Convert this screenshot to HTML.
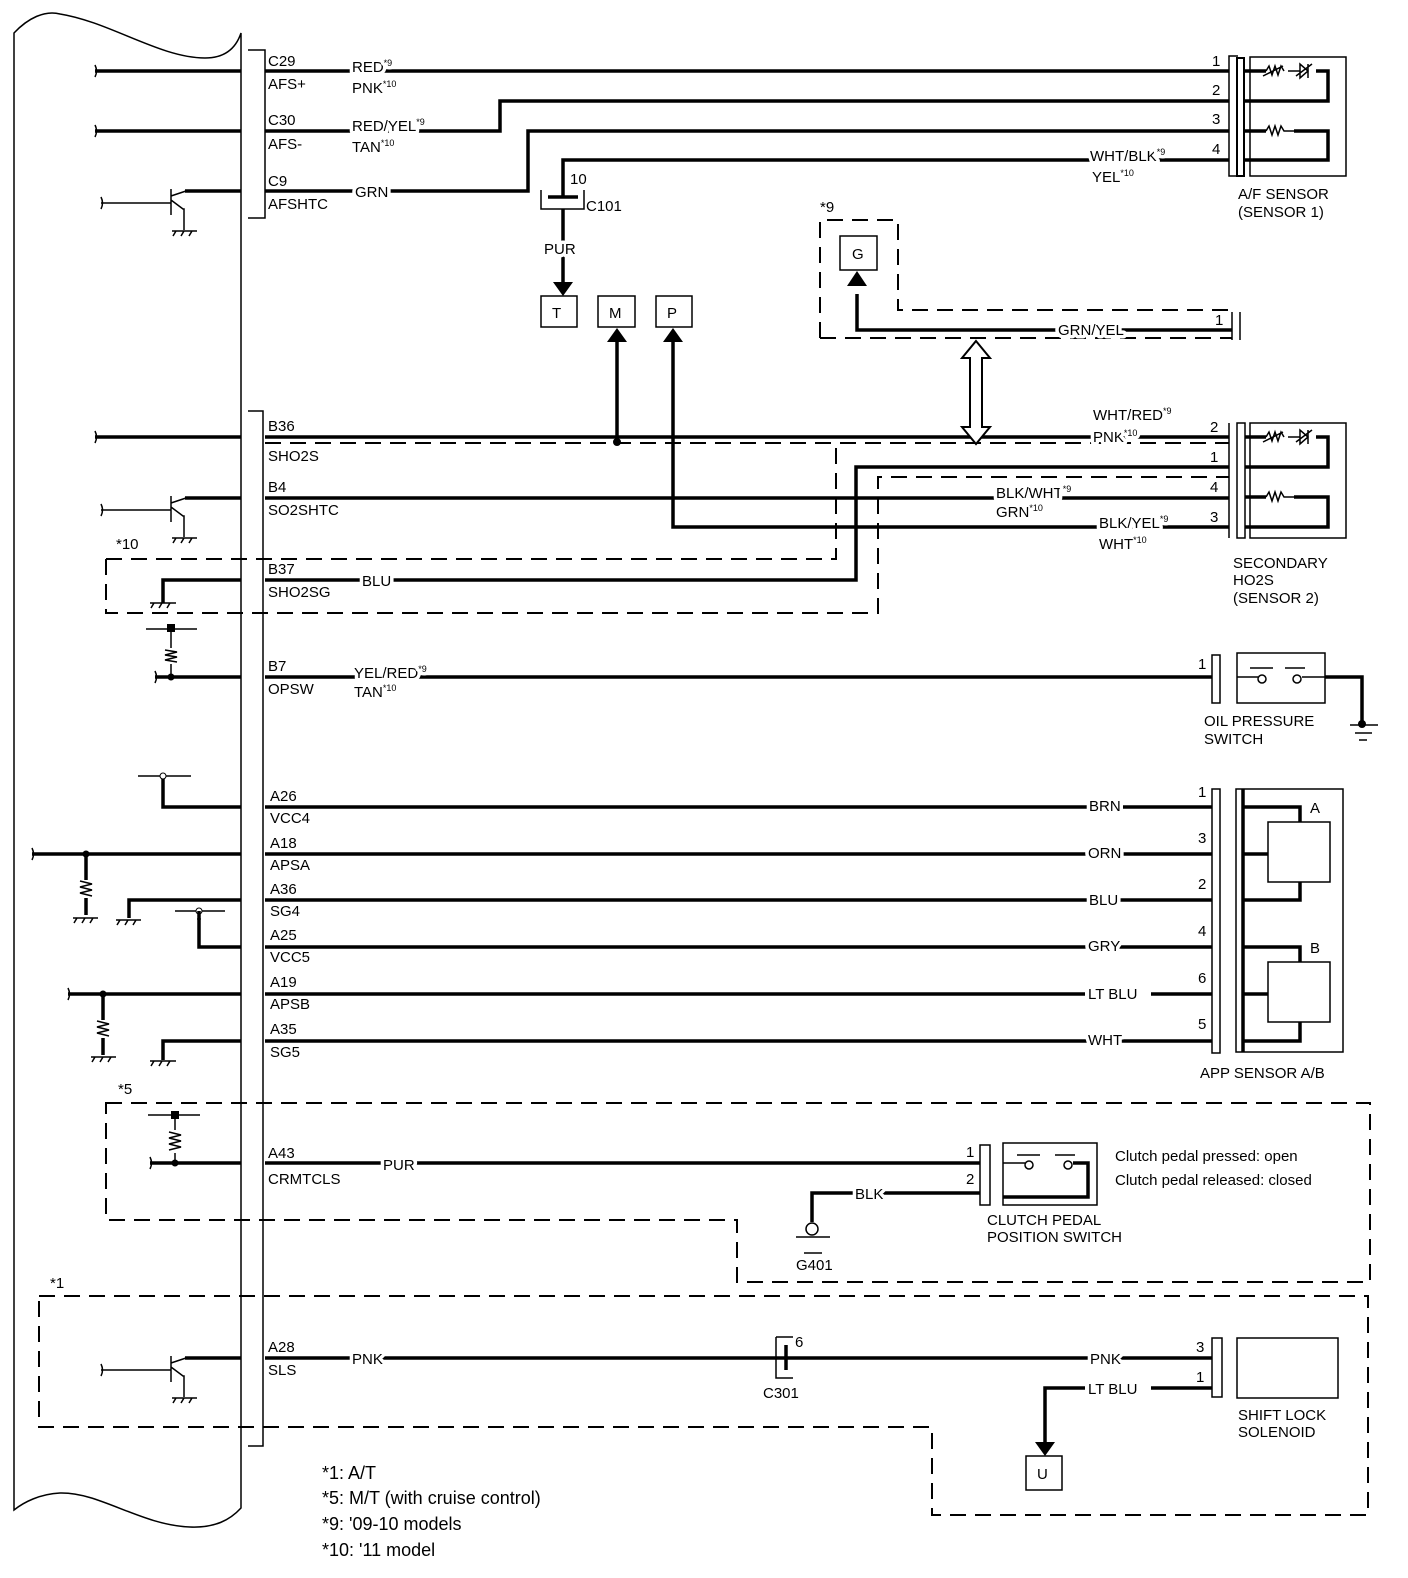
<!DOCTYPE html>
<html><head><meta charset="utf-8"><style>
html,body{margin:0;padding:0;background:#fff;}
svg{display:block;}
text{font-family:"Liberation Sans",Arial,sans-serif;font-size:15px;fill:#000;}
.wl{paint-order:stroke;stroke:#fff;stroke-width:7px;stroke-linejoin:round;}
.s{font-size:9px;}
.w{stroke:#000;stroke-width:3.5;fill:none;}
.t{stroke:#000;stroke-width:1.5;fill:none;}
.d{stroke:#000;stroke-width:2;fill:none;stroke-dasharray:16,9;}
.lg{font-size:18px;}
</style></head><body>
<svg width="1408" height="1578" viewBox="0 0 1408 1578" xmlns="http://www.w3.org/2000/svg">
<path class="t" d="M14,33 C28,18 45,10 60,14 C110,22 160,58 205,58 C225,58 236,48 241,33 L241,1508 C230,1520 215,1528 190,1527 C140,1525 100,1492 60,1493 C40,1494 24,1502 14,1510 Z" stroke-width="2"/>
<path class="t" d="M248,50 L265,50 L265,218 L248,218"/>
<path class="t" d="M248,411 L263,411 L263,1446 L248,1446"/>

<path class="d" d="M820,338 L820,220 L898,220 L898,310 L1232,310 M820,338 L1232,338"/>
<path class="d" d="M265,443 L1229,443"/>
<path class="d" d="M106,559 L106,613 L878,613 L878,477 L1229,477 M106,559 L836,559 L836,447"/>
<path class="d" d="M106,1103 L1370,1103 L1370,1282 L737,1282 L737,1220 L106,1220 Z"/>
<path class="d" d="M39,1296 L1368,1296 L1368,1515 L932,1515 L932,1427 L39,1427 Z"/>

<g class="w">
<path d="M95,71 L241,71"/><path d="M95,131 L241,131"/>
<path d="M185,191 L241,191"/>
<path d="M95,437 L241,437"/>
<path d="M185,498 L241,498"/>
<path d="M163,603 L163,580 L241,580"/>
<path d="M155,677 L241,677"/>
<path d="M163,776 L163,807 L241,807"/>
<path d="M32,854 L241,854"/>
<path d="M86,854 L86,880"/><path d="M86,898 L86,915"/>
<path d="M129,918 L129,900 L241,900"/>
<path d="M199,918 L199,947 L241,947"/>
<path d="M68,994 L241,994"/>
<path d="M103,994 L103,1020"/><path d="M103,1038 L103,1055"/>
<path d="M163,1060 L163,1041 L241,1041"/>
<path d="M150,1163 L241,1163"/>
<path d="M185,1358 L241,1358"/>
</g>
<g class="t">
<path d="M101,203 L171,203 M171,189 L171,215 M171,196 L186,191 M171,200 L183,209 L184,209 L184,230 M172,231 L197,231 M176,231 l-3,5 M184,231 l-3,5 M192,231 l-3,5"/>
<path d="M101,510 L171,510 M171,496 L171,522 M171,503 L186,498 M171,507 L183,516 L184,516 L184,537 M172,538 L197,538 M176,538 l-3,5 M184,538 l-3,5 M192,538 l-3,5"/>
<path d="M101,1370 L171,1370 M171,1356 L171,1382 M171,1363 L186,1358 M171,1367 L183,1376 L184,1376 L184,1397 M172,1398 L197,1398 M176,1398 l-3,5 M184,1398 l-3,5 M192,1398 l-3,5"/>
<path d="M150,603 L176,603 M154,603 l-3,5 M162,603 l-3,5 M170,603 l-3,5"/>
<path d="M73,918 L98,918 M77,918 l-3,5 M85,918 l-3,5 M93,918 l-3,5"/>
<path d="M116,920 L141,920 M120,920 l-3,5 M128,920 l-3,5 M136,920 l-3,5"/>
<path d="M91,1057 L116,1057 M95,1057 l-3,5 M103,1057 l-3,5 M111,1057 l-3,5"/>
<path d="M150,1061 L176,1061 M154,1061 l-3,5 M162,1061 l-3,5 M170,1061 l-3,5"/>
<path d="M146,629 L197,629 M171,629 L171,648 M171,664 L171,677 M165,650 l12,2 l-12,3 l12,2 l-12,3 l12,2"/>
<path d="M148,1115 L200,1115 M175,1115 L175,1130 M175,1153 L175,1163 M169,1132 l12,3 l-12,3 l12,3 l-12,3 l12,3 l-12,3"/>
<path d="M80,881 l12,3 l-12,3 l12,3 l-12,3 l12,3"/>
<path d="M97,1021 l12,3 l-12,3 l12,3 l-12,3 l12,3"/>
<path d="M138,776 L191,776 M175,911 L225,911"/>
<path d="M95,65 q3,6 0,12 M95,125 q3,6 0,12 M101,197 q3,6 0,12 M95,431 q3,6 0,12 M101,504 q3,6 0,12 M155,671 q3,6 0,12 M32,848 q3,6 0,12 M68,988 q3,6 0,12 M150,1157 q3,6 0,12 M101,1364 q3,6 0,12"/>
</g>
<rect x="167" y="624" width="8" height="8"/>
<rect x="171" y="1111" width="8" height="8"/>
<circle cx="171" cy="677" r="3.5"/><circle cx="86" cy="854" r="3.5"/><circle cx="103" cy="994" r="3.5"/><circle cx="175" cy="1163" r="3.5"/>
<circle cx="163" cy="776" r="3" fill="#fff" stroke="#000"/><circle cx="199" cy="911" r="3" fill="#fff" stroke="#000"/>
<path d="M199,911 L199,920" class="w"/>

<g class="w">
<path d="M265,71 L1229,71"/>
<path d="M265,131 L500,131 L500,101 L1229,101"/>
<path d="M265,191 L528,191 L528,131 L1229,131"/>
<path d="M1229,160 L563,160 L563,197"/>
<path d="M563,209 L563,282"/>
<path d="M265,437 L1229,437"/>
<path d="M617,437 L617,340"/>
<path d="M265,498 L1229,498"/>
<path d="M673,340 L673,527 L1229,527"/>
<path d="M265,580 L856,580 L856,467 L1229,467"/>
<path d="M857,294 L857,330 L1232,330"/>
<path d="M265,677 L1212,677"/>
<path d="M265,807 L1212,807"/><path d="M265,854 L1212,854"/><path d="M265,900 L1212,900"/>
<path d="M265,947 L1212,947"/><path d="M265,994 L1212,994"/><path d="M265,1041 L1212,1041"/>
<path d="M265,1163 L980,1163"/>
<path d="M980,1193 L812,1193 L812,1222"/>
<path d="M265,1358 L1212,1358"/>
<path d="M1212,1388 L1045,1388 L1045,1442"/>
</g>
<circle cx="617" cy="442" r="4"/>
<path d="M553,282 L573,282 L563,296 Z"/>
<path d="M607,342 L627,342 L617,328 Z"/>
<path d="M663,342 L683,342 L673,328 Z"/>
<path d="M847,286 L867,286 L857,271 Z"/>
<path d="M1035,1442 L1055,1442 L1045,1456 Z"/>
<path d="M976,341 L990,358 L982,358 L982,427 L990,427 L976,444 L962,427 L970,427 L970,358 L962,358 Z" fill="#fff" stroke="#000" stroke-width="2"/>
<g class="t" stroke-width="2">
<rect x="541" y="296" width="36" height="31"/><rect x="598" y="296" width="37" height="31"/><rect x="656" y="296" width="36" height="31"/>
<rect x="840" y="236" width="37" height="34"/>
<rect x="1026" y="1456" width="36" height="34"/>
<path d="M541,190 L541,209 L584,209 L584,190"/>
<path d="M1232,312 L1232,340 M1240,312 L1240,340"/>
<path d="M776,1337 L776,1378 L793,1378 M776,1337 L793,1337"/>
</g>
<path d="M548,197 L578,197" class="w"/>
<path d="M786,1345 L786,1370" class="w"/>

<g class="t" stroke-width="2">
<path d="M1238,56 L1229,56 L1229,176 L1238,176"/>
<rect x="1250" y="57" width="96" height="119"/>
<rect x="1237" y="423" width="8" height="115" /><path d="M1229,423 L1229,538"/>
<rect x="1250" y="423" width="96" height="115"/>
<path d="M1212,655 L1220,655 L1220,703 L1212,703 Z"/>
<rect x="1237" y="653" width="88" height="50"/>
<path d="M1212,789 L1220,789 L1220,1053 L1212,1053 Z"/>
<rect x="1236" y="789" width="107" height="263"/>
<rect x="1268" y="822" width="62" height="60"/><rect x="1268" y="962" width="62" height="60"/>
<path d="M980,1145 L990,1145 L990,1205 L980,1205 Z"/>
<rect x="1003" y="1143" width="94" height="62"/>
<path d="M1212,1338 L1222,1338 L1222,1397 L1212,1397 Z"/>
<rect x="1237" y="1338" width="101" height="60"/>
</g>
<rect x="1237" y="58" width="7" height="118" fill="#fff" stroke="#000" stroke-width="2"/>
<g class="w">
<path d="M1244,71 L1328,71 L1328,101 L1244,101"/>
<path d="M1244,131 L1328,131 L1328,160 L1244,160"/>
<path d="M1245,437 L1328,437 L1328,467 L1245,467"/>
<path d="M1245,497 L1328,497 L1328,527 L1245,527"/>
<path d="M1325,677 L1362,677 L1362,722"/>
<path d="M1243,789 L1243,1052"/>
<path d="M1243,807 L1300,807 L1300,822 M1243,854 L1268,854 M1243,900 L1300,900 L1300,882"/>
<path d="M1243,947 L1300,947 L1300,962 M1243,994 L1268,994 M1243,1041 L1300,1041 L1300,1022"/>
<path d="M1073,1163 L1088,1163 L1088,1197 L1003,1197"/>
</g>
<g fill="#fff">
<rect x="1266" y="66" width="50" height="10"/><rect x="1266" y="126" width="28" height="10"/>
<rect x="1266" y="432" width="50" height="10"/><rect x="1266" y="492" width="28" height="10"/>
<rect x="1085" y="985" width="66" height="18"/>
<rect x="1085" y="1379" width="66" height="18"/>
</g>
<g class="t">
<path d="M1266,71 l3,-5 l3,9 l3,-9 l3,9 l3,-9 l3,5 M1263,76 l20,-10 M1288,71 l12,0 M1300,64 l0,14 l8,-7 z M1308,64 l0,14 M1296,76 l16,-12"/>
<path d="M1266,131 l3,-5 l3,9 l3,-9 l3,9 l3,-9 l3,5 l10,0"/>
<path d="M1266,437 l3,-5 l3,9 l3,-9 l3,9 l3,-9 l3,5 M1263,442 l20,-10 M1288,437 l12,0 M1300,430 l0,14 l8,-7 z M1308,430 l0,14 M1296,442 l16,-12"/>
<path d="M1266,497 l3,-5 l3,9 l3,-9 l3,9 l3,-9 l3,5 l10,0"/>
<path d="M1237,677 L1258,677 M1302,677 L1325,677 M1250,668 L1273,668 M1285,668 L1305,668"/>
<path d="M1350,725 L1378,725 M1355,733 L1372,733 M1359,740 L1367,740"/>
<path d="M1003,1163 L1025,1163 M1017,1155 L1040,1155 M1055,1155 L1075,1155"/>
<path d="M796,1237 L830,1237 M804,1253 L822,1253"/>
</g>
<circle cx="1262" cy="679" r="4" fill="#fff" stroke="#000" stroke-width="1.5"/>
<circle cx="1297" cy="679" r="4" fill="#fff" stroke="#000" stroke-width="1.5"/>
<circle cx="1029" cy="1165" r="4" fill="#fff" stroke="#000" stroke-width="1.5"/>
<circle cx="1068" cy="1165" r="4" fill="#fff" stroke="#000" stroke-width="1.5"/>
<circle cx="1362" cy="724" r="4"/>
<circle cx="812" cy="1229" r="6" fill="#fff" stroke="#000" stroke-width="1.5"/>

<text x="268" y="66">C29</text><text x="268" y="89">AFS+</text>
<text x="268" y="125">C30</text><text x="268" y="149">AFS-</text>
<text x="268" y="186">C9</text><text x="268" y="209">AFSHTC</text>
<text x="268" y="431">B36</text><text x="268" y="461">SHO2S</text>
<text x="268" y="492">B4</text><text x="268" y="515">SO2SHTC</text>
<text x="268" y="574">B37</text><text x="268" y="597">SHO2SG</text>
<text x="268" y="671">B7</text><text x="268" y="694">OPSW</text>
<text x="270" y="801">A26</text><text x="270" y="823">VCC4</text>
<text x="270" y="848">A18</text><text x="270" y="870">APSA</text>
<text x="270" y="894">A36</text><text x="270" y="916">SG4</text>
<text x="270" y="940">A25</text><text x="270" y="962">VCC5</text>
<text x="270" y="987">A19</text><text x="270" y="1009">APSB</text>
<text x="270" y="1034">A35</text><text x="270" y="1057">SG5</text>
<text x="268" y="1158">A43</text><text x="268" y="1184">CRMTCLS</text>
<text x="268" y="1352">A28</text><text x="268" y="1375">SLS</text>

<text class="wl" x="352" y="72">RED<tspan class="s" dy="-6">*9</tspan></text>
<text x="352" y="93">PNK<tspan class="s" dy="-6">*10</tspan></text>
<text class="wl" x="352" y="131">RED/YEL<tspan class="s" dy="-6">*9</tspan></text>
<text x="352" y="152">TAN<tspan class="s" dy="-6">*10</tspan></text>
<text class="wl" x="355" y="197">GRN</text>
<text class="wl" x="544" y="254">PUR</text>
<text x="570" y="184">10</text><text x="586" y="211">C101</text>
<text class="wl" x="1090" y="161">WHT/BLK<tspan class="s" dy="-6">*9</tspan></text>
<text x="1092" y="182">YEL<tspan class="s" dy="-6">*10</tspan></text>
<text x="820" y="212">*9</text>
<text x="852" y="259" font-size="14">G</text>
<text x="552" y="318" font-size="14">T</text><text x="609" y="318" font-size="14">M</text><text x="667" y="318" font-size="14">P</text>
<text class="wl" x="1058" y="335">GRN/YEL</text>
<text x="1215" y="325">1</text>
<text x="1093" y="420">WHT/RED<tspan class="s" dy="-6">*9</tspan></text>
<text class="wl" x="1093" y="442">PNK<tspan class="s" dy="-6">*10</tspan></text>
<text class="wl" x="996" y="498">BLK/WHT<tspan class="s" dy="-6">*9</tspan></text>
<text x="996" y="517">GRN<tspan class="s" dy="-6">*10</tspan></text>
<text class="wl" x="1099" y="528">BLK/YEL<tspan class="s" dy="-6">*9</tspan></text>
<text x="1099" y="549">WHT<tspan class="s" dy="-6">*10</tspan></text>
<text x="116" y="549">*10</text>
<text class="wl" x="362" y="586">BLU</text>
<text class="wl" x="354" y="678">YEL/RED<tspan class="s" dy="-6">*9</tspan></text>
<text x="354" y="697">TAN<tspan class="s" dy="-6">*10</tspan></text>
<text class="wl" x="1089" y="811">BRN</text>
<text class="wl" x="1088" y="858">ORN</text>
<text class="wl" x="1089" y="905">BLU</text>
<text class="wl" x="1088" y="951">GRY</text>
<text class="wl" x="1088" y="999">LT BLU</text>
<text class="wl" x="1088" y="1045">WHT</text>
<text x="118" y="1094">*5</text>
<text class="wl" x="383" y="1170">PUR</text>
<text class="wl" x="855" y="1199">BLK</text>
<text x="796" y="1270">G401</text>
<text x="50" y="1288">*1</text>
<text class="wl" x="352" y="1364">PNK</text>
<text x="795" y="1347" font-size="14">6</text><text x="763" y="1398">C301</text>
<text class="wl" x="1090" y="1364">PNK</text>
<text class="wl" x="1088" y="1394">LT BLU</text>
<text x="1037" y="1479" font-size="14">U</text>

<text x="1212" y="66">1</text><text x="1212" y="95">2</text><text x="1212" y="124">3</text><text x="1212" y="154">4</text>
<text x="1210" y="432">2</text><text x="1210" y="462">1</text><text x="1210" y="492">4</text><text x="1210" y="522">3</text>
<text x="1198" y="669">1</text>
<text x="1198" y="797">1</text><text x="1198" y="843">3</text><text x="1198" y="889">2</text>
<text x="1198" y="936">4</text><text x="1198" y="983">6</text><text x="1198" y="1029">5</text>
<text x="1310" y="813">A</text><text x="1310" y="953">B</text>
<text x="966" y="1157">1</text><text x="966" y="1184">2</text>
<text x="1196" y="1352">3</text><text x="1196" y="1382">1</text>

<text x="1238" y="199">A/F SENSOR</text><text x="1238" y="217">(SENSOR 1)</text>
<text x="1233" y="568">SECONDARY</text><text x="1233" y="585">HO2S</text><text x="1233" y="603">(SENSOR 2)</text>
<text x="1204" y="726">OIL PRESSURE</text><text x="1204" y="744">SWITCH</text>
<text x="1200" y="1078">APP SENSOR A/B</text>
<text x="1115" y="1161">Clutch pedal pressed: open</text>
<text x="1115" y="1185">Clutch pedal released: closed</text>
<text x="987" y="1225">CLUTCH PEDAL</text><text x="987" y="1242">POSITION SWITCH</text>
<text x="1238" y="1420">SHIFT LOCK</text><text x="1238" y="1437">SOLENOID</text>

<text class="lg" x="322" y="1479">*1: A/T</text>
<text class="lg" x="322" y="1504">*5: M/T (with cruise control)</text>
<text class="lg" x="322" y="1530">*9: '09-10 models</text>
<text class="lg" x="322" y="1556">*10: '11 model</text>
</svg>
</body></html>
